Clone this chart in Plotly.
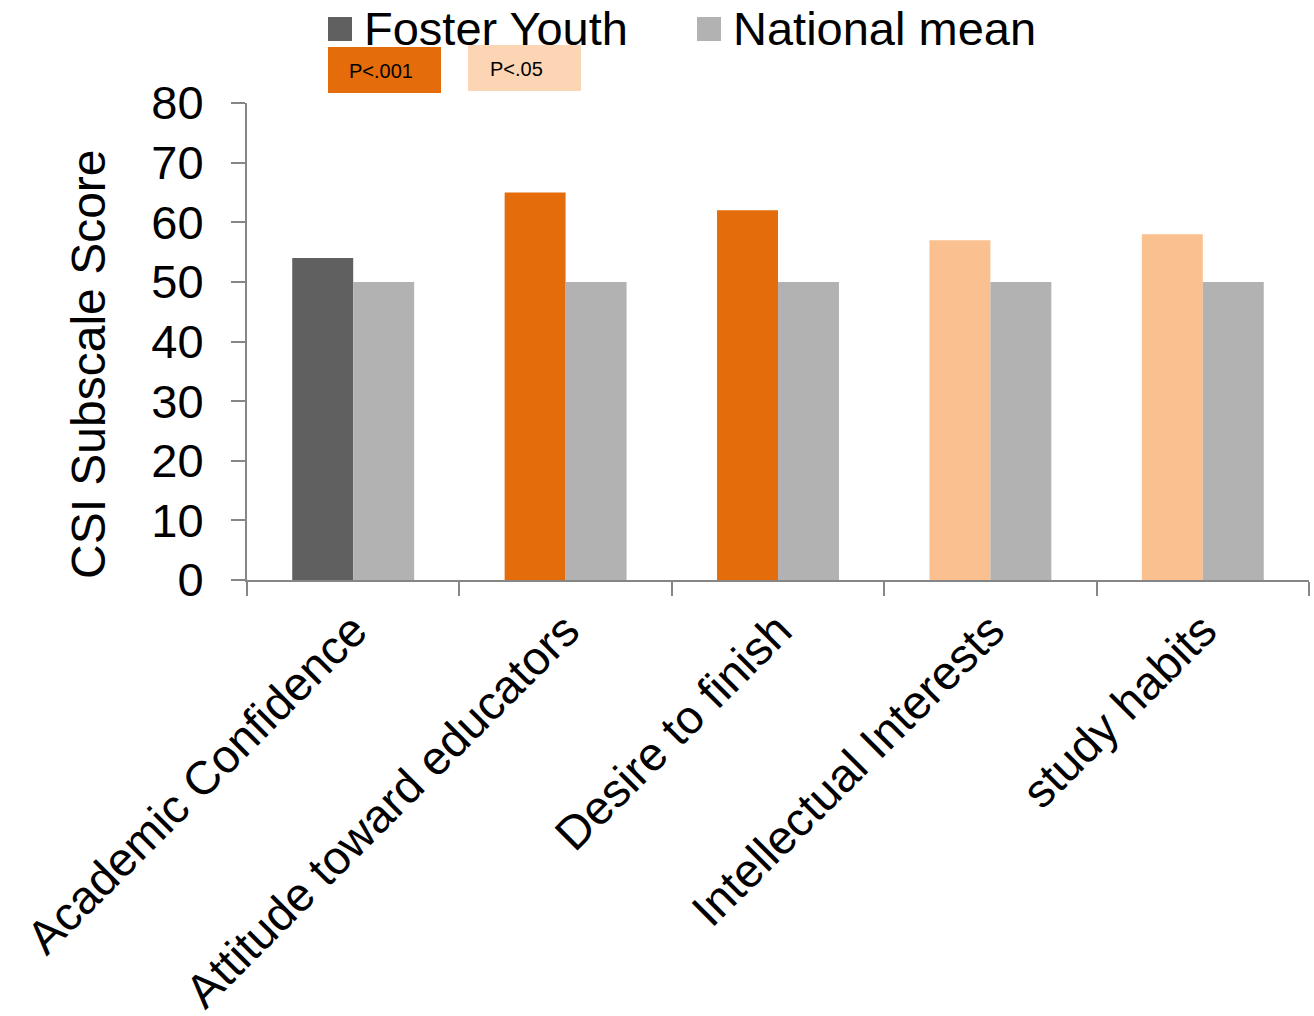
import plotly.graph_objects as go

# CSI subscale scores: foster youth sample vs. national norm
categories = ["Academic Confidence", "Attitude toward educators", "Desire to finish",
              "Intellectual Interests", "study habits"]
foster_youth = [54, 65, 62, 57, 58]
national_mean = [50, 50, 50, 50, 50]
significance = ["ns", "p001", "p001", "p05", "p05"]
y_ticks = [0, 10, 20, 30, 40, 50, 60, 70, 80]

DARK_GRAY = "#606060"
LIGHT_GRAY = "#b2b2b2"
ORANGE = "#e46c0a"
LIGHT_ORANGE = "#fac090"
PALE_ORANGE = "#fcd5b5"
AXIS_GRAY = "#868686"
FONT = "Liberation Sans, Arial, sans-serif"

sig_colors = {"ns": DARK_GRAY, "p001": ORANGE, "p05": LIGHT_ORANGE}

fig = go.Figure()
fig.add_trace(go.Bar(
    x=categories, y=foster_youth, name="Foster Youth",
    marker=dict(color=[sig_colors[s] for s in significance], line=dict(width=0)),
))
fig.add_trace(go.Bar(
    x=categories, y=national_mean, name="National mean",
    marker=dict(color=LIGHT_GRAY, line=dict(width=0)),
))

# plot-area geometry in pixels (used to place the header key in paper units)
W, H = 1314, 1016
L, R, T, B = 247, 5, 103, 436
pw, ph = W - L - R, H - T - B


def px_x(px):
    return (px - L) / pw


def px_y(py):
    return (H - B - py) / ph


shapes = []
annotations = []

# series key
for x0, color, label in [(328, DARK_GRAY, "Foster Youth"), (697, LIGHT_GRAY, "National mean")]:
    shapes.append(dict(type="rect", xref="paper", yref="paper",
                       x0=px_x(x0), x1=px_x(x0 + 24), y0=px_y(41), y1=px_y(17),
                       fillcolor=color, line=dict(width=0)))
    annotations.append(dict(xref="paper", yref="paper", x=px_x(x0 + 34), y=px_y(28),
                            xanchor="left", yanchor="middle", showarrow=False,
                            text=label, font=dict(family=FONT, size=47, color="black")))

# significance key
for x0, y0, dx, color, label in [(328, 47, 53, ORANGE, "P<.001"),
                                 (468, 45, 48, PALE_ORANGE, "P<.05")]:
    shapes.append(dict(type="rect", xref="paper", yref="paper",
                       x0=px_x(x0), x1=px_x(x0 + 113), y0=px_y(y0 + 46), y1=px_y(y0),
                       fillcolor=color, line=dict(width=0)))
    annotations.append(dict(xref="paper", yref="paper", x=px_x(x0 + dx), y=px_y(y0 + 24),
                            xanchor="center", yanchor="middle", showarrow=False,
                            text=label, font=dict(family=FONT, size=20, color="black")))

# y-axis title
annotations.append(dict(xref="paper", yref="paper", x=px_x(88), y=px_y(364),
                        xanchor="center", yanchor="middle", showarrow=False, textangle=-90,
                        text="CSI Subscale Score",
                        font=dict(family=FONT, size=48, color="black")))

fig.update_layout(
    width=W, height=H,
    margin=dict(l=L, r=R, t=T, b=B, pad=0, autoexpand=False),
    paper_bgcolor="white", plot_bgcolor="white",
    barmode="group", bargap=0.426, bargroupgap=0,
    showlegend=False,
    shapes=shapes, annotations=annotations,
    font=dict(family=FONT, color="black"),
)
fig.update_xaxes(
    automargin=False,
    showline=True, linecolor=AXIS_GRAY, linewidth=2,
    ticks="outside", tickson="boundaries", ticklen=14, tickwidth=2, tickcolor=AXIS_GRAY,
    tickangle=-45, tickfont=dict(family=FONT, size=47, color="black"),
    ticklabelstandoff=2,
    showgrid=False, zeroline=False,
)
fig.update_yaxes(
    automargin=False,
    range=[0, 80], tickvals=y_ticks,
    showline=True, linecolor=AXIS_GRAY, linewidth=2,
    ticks="outside", ticklen=14, tickwidth=2, tickcolor=AXIS_GRAY,
    tickfont=dict(family=FONT, size=47, color="black"),
    ticklabelstandoff=18,
    showgrid=False, zeroline=False,
)

fig.write_html("out.html")
